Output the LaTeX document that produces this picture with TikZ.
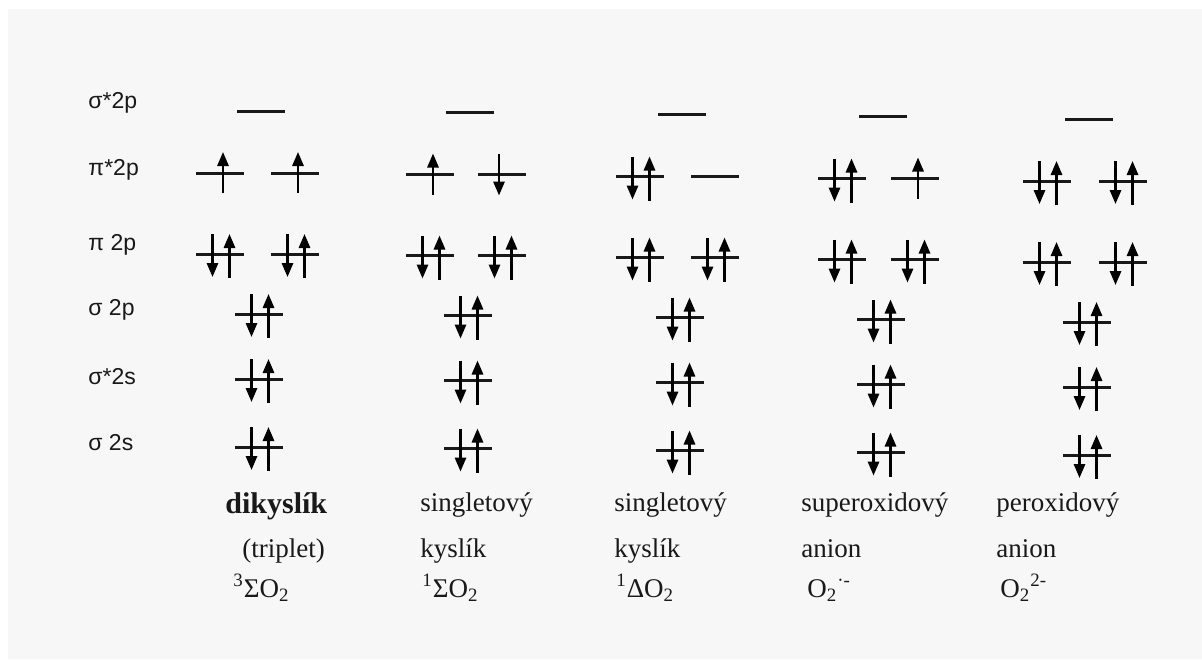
\documentclass[tikz,border=0pt]{standalone}
\usepackage{fontspec}
\setmainfont{Liberation Serif}
\newfontfamily\labfont{Liberation Sans}
\usetikzlibrary{arrows.meta}
\definecolor{paper}{HTML}{F7F7F7}

\begin{document}
\begin{tikzpicture}[x=0.5pt, y=-0.5pt,
    >={Triangle[width=5.6pt, length=7pt]},
    lvl/.style={line width=1.5pt, black!90},
    spin/.style={->, line width=1.2pt, black},
    rowlab/.style={font=\labfont\fontsize{11.5}{13}\selectfont, anchor=west,
                   inner sep=0pt, black!90},
    caption/.style={font=\fontsize{13.5}{16}\selectfont, anchor=base west,
                    inner sep=0pt, black!90},
    orbnone/.pic={\draw[lvl] (-24,0) -- (24,0);},
    orbup/.pic={\draw[lvl] (-24,0) -- (24,0);
                \draw[spin] (3,20) -- (3,-21);},
    orbdown/.pic={\draw[lvl] (-24,0) -- (24,0);
                  \draw[spin] (-3,-21) -- (-3,21);},
    orbpair/.pic={\draw[lvl] (-24,0) -- (24,0);
                  \draw[spin] (-7.5,-20) -- (-7.5,23);
                  \draw[spin] (9.5,24) -- (9.5,-20);},
  ]
  \useasboundingbox (0,0) rectangle (1202,659);
  \fill[white] (0,0) rectangle (1202,659);
  \fill[paper] (8,9) rectangle (1202,659);

  % row labels
  \node[rowlab] (lsp) at (88,103) {σ*2p};
  \node[rowlab] (lpp) at (88,170) {π*2p};
  \node[rowlab] (lp) at (88,245) {π 2p};
  \node[rowlab] (ls) at (88,310) {σ 2p};
  \node[rowlab] (lss) at (88,377) {σ*2s};
  \node[rowlab] (lsig) at (88,443) {σ 2s};

  % orbitals, one column per species
  \foreach \cx/\pl/\pr/\dy/\sa/\sb [count=\i] in
      {259/220/295/0/orbup/orbup,
       468/430/502/1.5/orbup/orbdown,
       680/640/715/3.5/orbpair/orbnone,
       881/842/915/5.5/orbpair/orbup,
       1087/1047/1123/8/orbpair/orbpair} {
    \pic (sp\i) at (\cx+2, 111+\dy) {orbnone};
    \pic (ppa\i) at (\pl, 173+\dy) {\sa};
    \pic (ppb\i) at (\pr, 173+\dy) {\sb};
    \pic (pa\i) at (\pl, 254+\dy) {orbpair};
    \pic (pb\i) at (\pr, 254+\dy) {orbpair};
    \pic (s\i) at (\cx, 314+\dy) {orbpair};
    \pic (ss\i) at (\cx, 379+\dy) {orbpair};
    \pic (sig\i) at (\cx, 447+\dy) {orbpair};
  }

  % captions
  \node[caption, font=\bfseries\fontsize{15}{18}\selectfont] (tri) at (225,513) {dikyslík};
  \node[caption] (tri2) at (242,557) {(triplet)};
  \node[caption] (tri3) at (233,597) {\textsuperscript{3}ΣO\textsubscript{2}};

  \node[caption] (sig) at (420,511) {singletový};
  \node[caption] (sig2) at (420,557) {kyslík};
  \node[caption] (sig3) at (422,597) {\textsuperscript{1}ΣO\textsubscript{2}};

  \node[caption] (del) at (614,511) {singletový};
  \node[caption] (del2) at (614,557) {kyslík};
  \node[caption] (del3) at (616,597) {\textsuperscript{1}ΔO\textsubscript{2}};

  \node[caption] (sup) at (801,511) {superoxidový};
  \node[caption] (sup2) at (801,557) {anion};
  \node[caption] (sup3) at (807,597) {O\textsubscript{2}\textsuperscript{·-}};

  \node[caption] (per) at (996,511) {peroxidový};
  \node[caption] (per2) at (996,557) {anion};
  \node[caption] (per3) at (1000,597) {O\textsubscript{2}\textsuperscript{2-}};
\end{tikzpicture}
\end{document}
